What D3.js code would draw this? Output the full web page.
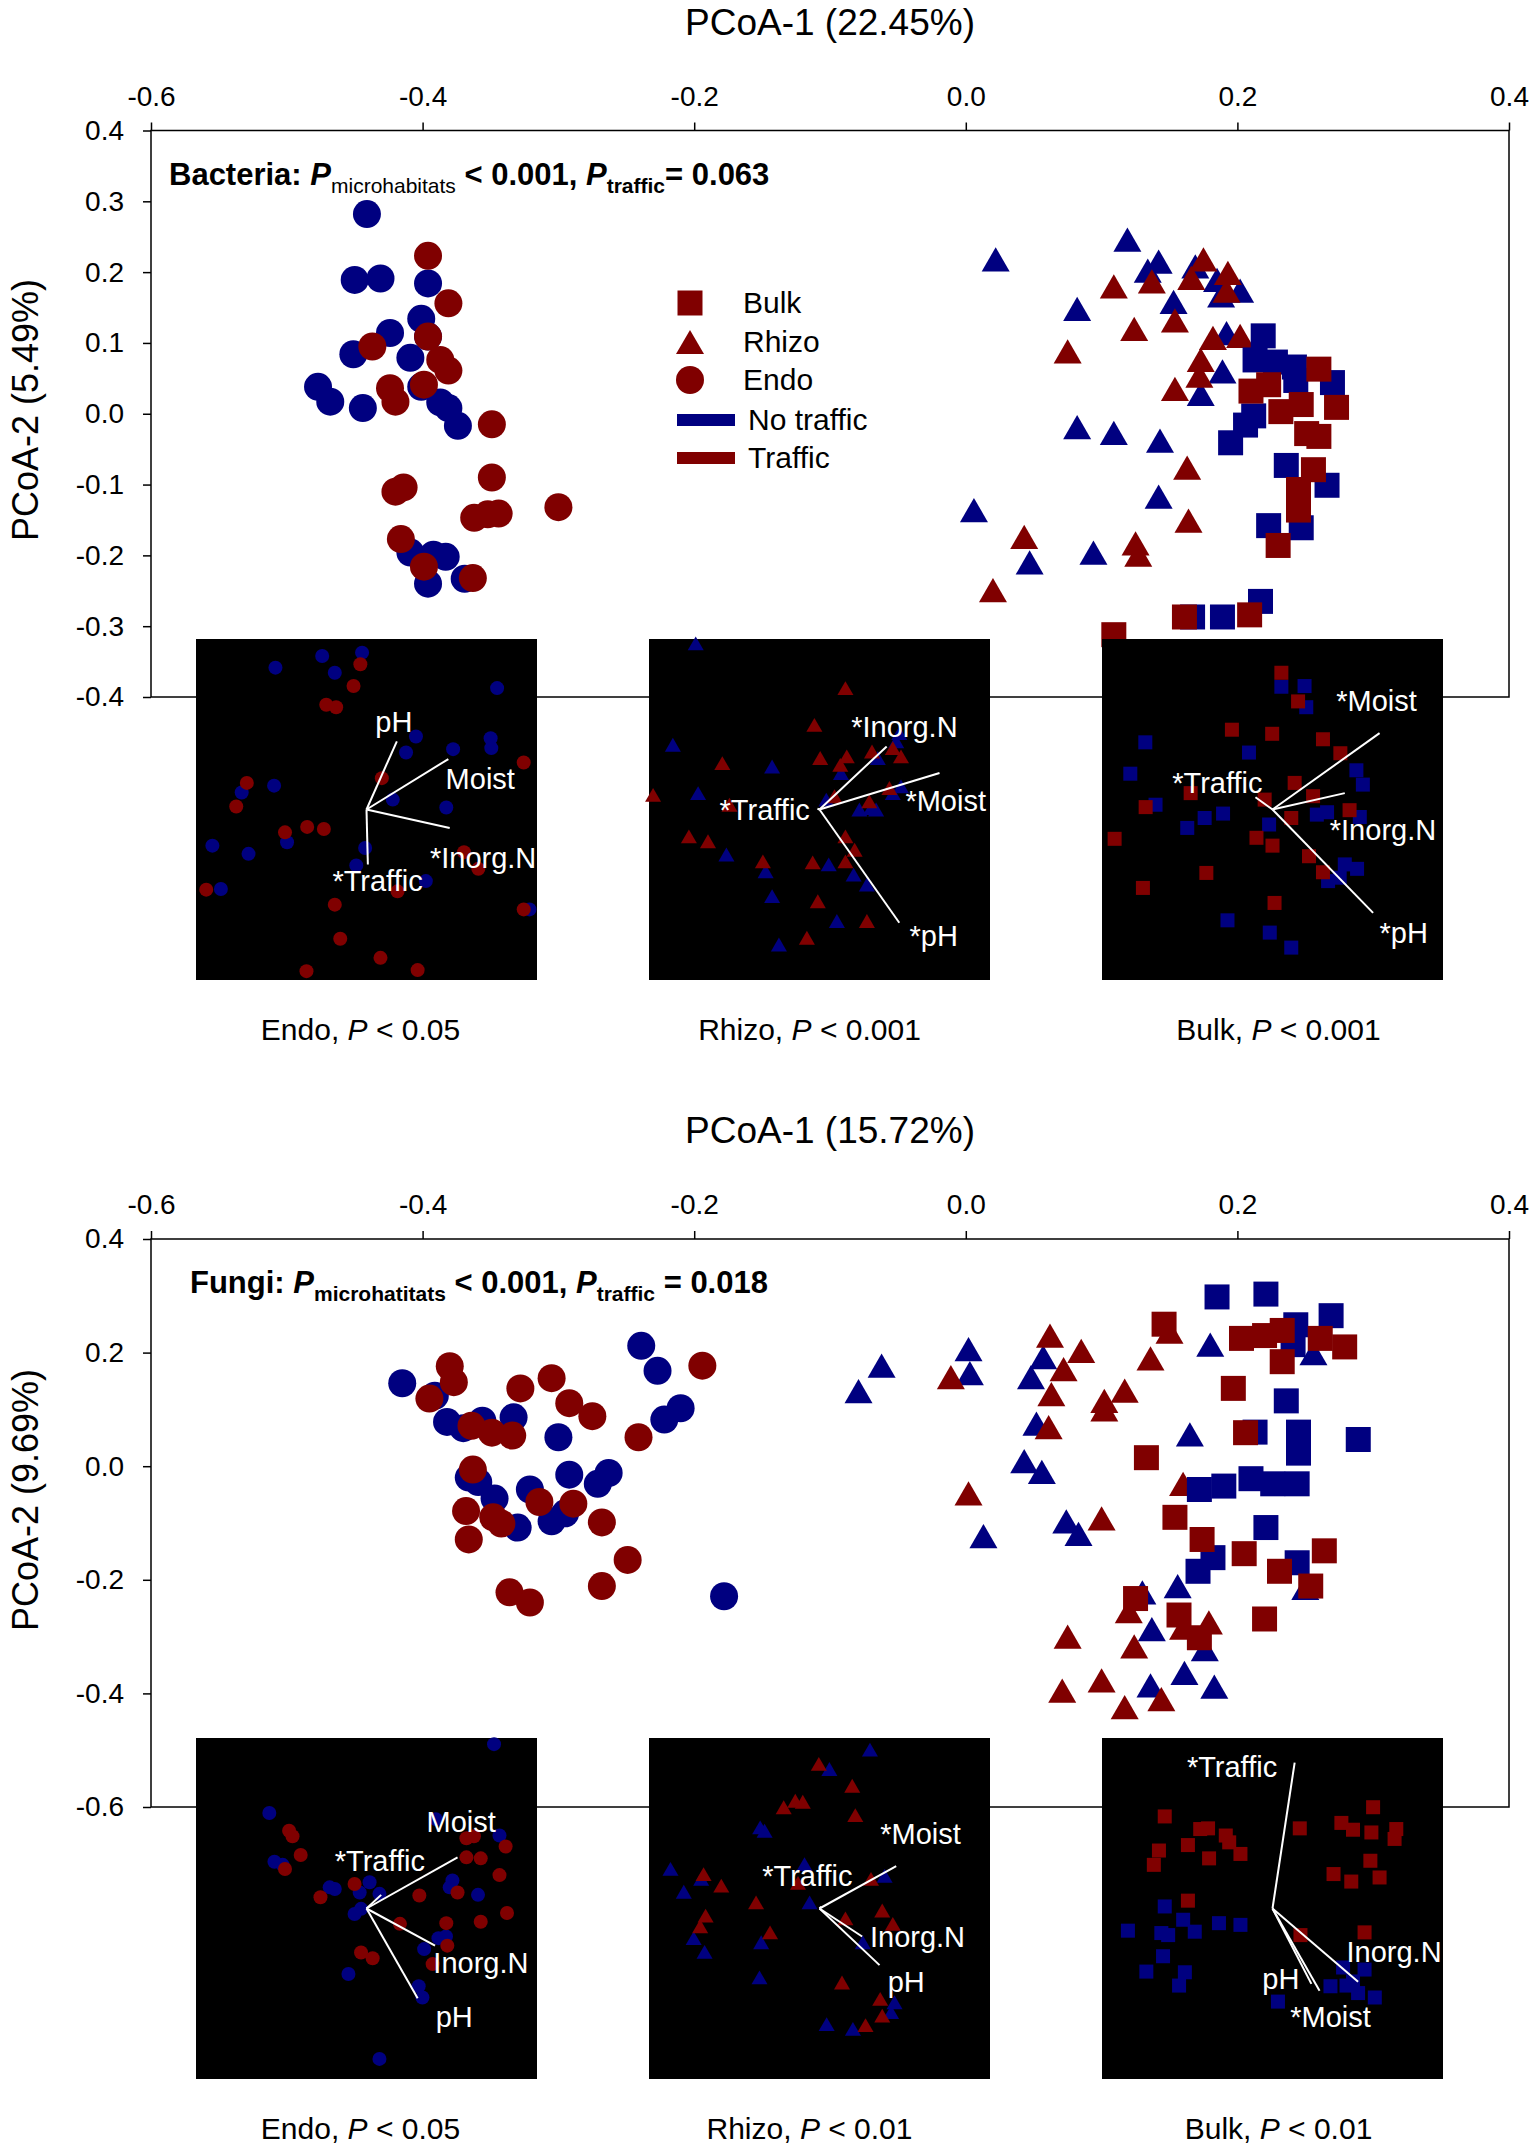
<!DOCTYPE html>
<html>
<head>
<meta charset="utf-8">
<script src="https://cdn.jsdelivr.net/npm/d3@7"></script>
<style>
  body { margin: 0; background: #fff; }
</style>
</head>
<body>
<div id="chart"></div>
<script>
// ---- axis ticks ----
var xTicks = [-0.6, -0.4, -0.2, 0.0, 0.2, 0.4];
var bacYTicks = [0.4, 0.3, 0.2, 0.1, 0.0, -0.1, -0.2, -0.3, -0.4];
var funYTicks = [0.4, 0.2, 0.0, -0.2, -0.4, -0.6];

// ---- Bacteria PCoA scores [PCoA-1, PCoA-2] ----
var bacEndoNo = [[-0.441,0.282],[-0.450,0.189],[-0.431,0.191],[-0.396,0.184],[-0.401,0.134],[-0.424,0.114],
  [-0.396,0.109],[-0.451,0.084],[-0.409,0.079],[-0.477,0.038],[-0.468,0.017],[-0.444,0.008],[-0.401,0.038],
  [-0.387,0.016],[-0.381,0.008],[-0.374,-0.017],[-0.409,-0.196],[-0.392,-0.199],[-0.383,-0.202],[-0.396,-0.240],
  [-0.369,-0.233]];
var bacEndoTr = [[-0.396,0.223],[-0.381,0.156],[-0.437,0.095],[-0.396,0.109],[-0.387,0.076],[-0.381,0.061],
  [-0.424,0.036],[-0.420,0.017],[-0.399,0.041],[-0.349,-0.015],[-0.349,-0.090],[-0.420,-0.110],[-0.414,-0.104],
  [-0.362,-0.147],[-0.352,-0.142],[-0.344,-0.141],[-0.300,-0.132],[-0.416,-0.177],[-0.399,-0.216],[-0.363,-0.232]];
var bacRhizoNo = [[0.022,0.218],[0.119,0.246],[0.142,0.215],[0.134,0.202],[0.169,0.208],[0.185,0.189],
  [0.202,0.174],[0.188,0.167],[0.153,0.158],[0.082,0.148],[0.192,0.114],[0.189,0.060],[0.173,0.028],
  [0.082,-0.019],[0.109,-0.027],[0.143,-0.038],[0.142,-0.117],[0.006,-0.136],[0.047,-0.210],[0.094,-0.196]];
var bacRhizoTr = [[0.175,0.218],[0.193,0.199],[0.109,0.180],[0.137,0.187],[0.166,0.192],[0.192,0.174],
  [0.154,0.132],[0.124,0.120],[0.075,0.088],[0.182,0.107],[0.202,0.110],[0.173,0.076],[0.172,0.054],
  [0.154,0.035],[0.163,-0.076],[0.164,-0.151],[0.043,-0.174],[0.125,-0.183],[0.127,-0.199],[0.020,-0.249]];
var bacBulkNo = [[0.219,0.110],[0.213,0.076],[0.228,0.073],[0.242,0.066],[0.243,0.047],[0.270,0.044],
  [0.212,-0.003],[0.206,-0.016],[0.195,-0.041],[0.236,-0.073],[0.266,-0.101],[0.223,-0.158],[0.247,-0.161],
  [0.217,-0.265],[0.167,-0.287],[0.189,-0.287]];
var bacBulkTr = [[0.260,0.063],[0.210,0.032],[0.223,0.041],[0.232,0.003],[0.247,0.013],[0.273,0.009],
  [0.251,-0.028],[0.260,-0.032],[0.256,-0.079],[0.245,-0.107],[0.245,-0.136],[0.230,-0.186],[0.209,-0.284],
  [0.161,-0.287],[0.109,-0.312]];

// ---- Fungi PCoA scores ----
var funEndoNo = [[-0.415,0.146],[-0.391,0.124],[-0.382,0.078],[-0.356,0.080],[-0.370,0.067],[-0.333,0.086],
  [-0.300,0.051],[-0.239,0.212],[-0.227,0.168],[-0.222,0.082],[-0.210,0.102],[-0.359,-0.028],[-0.366,-0.020],
  [-0.347,-0.057],[-0.321,-0.041],[-0.292,-0.015],[-0.271,-0.031],[-0.263,-0.012],[-0.330,-0.108],
  [-0.305,-0.097],[-0.295,-0.083],[-0.178,-0.229]];
var funEndoTr = [[-0.380,0.176],[-0.377,0.148],[-0.395,0.119],[-0.328,0.137],[-0.305,0.155],[-0.292,0.111],
  [-0.275,0.088],[-0.364,0.071],[-0.349,0.059],[-0.334,0.054],[-0.241,0.051],[-0.194,0.177],[-0.363,-0.006],
  [-0.368,-0.079],[-0.348,-0.090],[-0.342,-0.101],[-0.314,-0.063],[-0.289,-0.066],[-0.268,-0.099],
  [-0.366,-0.129],[-0.249,-0.165],[-0.336,-0.222],[-0.321,-0.240],[-0.268,-0.211]];
var funRhizoNo = [[-0.062,0.177],[-0.079,0.132],[0.002,0.206],[0.003,0.164],[0.057,0.192],[0.048,0.157],
  [0.052,0.075],[0.043,0.009],[0.056,-0.010],[0.074,-0.097],[0.083,-0.119],[0.013,-0.123],[0.180,0.214],
  [0.165,0.056],[0.130,-0.222],[0.156,-0.211],[0.137,-0.287],[0.176,-0.322],[0.161,-0.364],[0.136,-0.386],
  [0.183,-0.388],[0.250,-0.214],[0.256,0.199]];
var funRhizoTr = [[-0.011,0.157],[0.062,0.230],[0.085,0.203],[0.072,0.171],[0.063,0.127],[0.102,0.115],
  [0.117,0.133],[0.102,0.100],[0.061,0.069],[0.136,0.190],[0.150,0.237],[0.002,-0.048],[0.100,-0.092],
  [0.160,-0.031],[0.120,-0.255],[0.179,-0.275],[0.160,-0.284],[0.075,-0.300],[0.124,-0.317],[0.071,-0.395],
  [0.100,-0.377],[0.144,-0.410],[0.117,-0.424]];
var funBulkNo = [[0.185,0.298],[0.221,0.303],[0.269,0.265],[0.243,0.249],[0.241,0.214],[0.236,0.115],
  [0.213,0.060],[0.245,0.060],[0.245,0.023],[0.289,0.047],[0.172,-0.041],[0.190,-0.035],[0.210,-0.022],
  [0.226,-0.031],[0.244,-0.031],[0.221,-0.108],[0.182,-0.161],[0.171,-0.185],[0.244,-0.170]];
var funBulkTr = [[0.146,0.250],[0.203,0.225],[0.220,0.230],[0.233,0.239],[0.261,0.225],[0.279,0.210],
  [0.233,0.184],[0.197,0.137],[0.206,0.059],[0.133,0.015],[0.154,-0.090],[0.174,-0.129],[0.205,-0.154],
  [0.264,-0.149],[0.231,-0.185],[0.254,-0.211],[0.157,-0.262],[0.125,-0.233],[0.220,-0.269],[0.172,-0.302]];

// ---- inset ordinations (axes scaled -50..50, origin at centre) ----
var bacEndoInNo = [[-26.7,41.6],[-13,45],[-1.3,46],[-9.3,40.1],[38.3,35.6],[14.5,21.4],[11.6,16.7],[25.4,17.7],
  [36.4,20.9],[36.6,18],[-27.1,7],[-36.6,5],[7.7,2.9],[23.4,0.6],[-45.2,-10.6],[-34.6,-13],[-23.3,-9.6],
  [-0.4,-11.3],[-3,-16.4],[-42.7,-23.3],[17.4,-21],[47.8,-29.3]];
var bacEndoInTr = [[-1.8,42.6],[-3.8,36.2],[-11.8,30.7],[-8.9,30],[46.1,13.8],[-35.1,7.8],[-38.2,0.9],[4.5,9.2],
  [-23.9,-6.7],[-17.4,-5.1],[-12.5,-5.7],[28.6,-12.5],[32.8,-17.4],[-47,-23.5],[9.1,-24],[-9.3,-27.9],
  [46.1,-29.3],[-7.7,-37.9],[4.1,-43.5],[-17.6,-47.4],[15,-47.1]];
var bacEndoArrows = [["pH",8.9,20],["Moist",24,14.8],["*Inorg.N",24.4,-5.4],["*Traffic",0.4,-16.1]];

var bacRhizoInNo = [[-36.3,48.7],[-43,19],[-35.6,4.8],[-13.9,12.6],[-27.3,-13.2],[-15.8,-18.1],[-13.9,-25.4],
  [-11.9,-39.6],[2.7,-16.1],[5.1,-32.7],[10,-19.1],[13.9,-22],[6.3,10.7],[17.1,15.1],[22.5,20],[23.4,22.4],
  [11.7,0],[15.1,0.4],[16.6,0],[21.5,4.8],[23.9,6.8],[2,2.9]];
var bacRhizoInTr = [[7.6,35.6],[-1.5,24.8],[-48.8,4.3],[-28.5,13.6],[0.2,15.1],[8,15.6],[6.1,13.1],[15.4,17],
  [23.9,15.6],[21.5,18],[20.5,6.3],[4.4,3.9],[14.6,2.4],[-26.4,1.4],[-38.3,-7.9],[-32.7,-9.3],[-16.6,-15.2],
  [-2,-15.5],[7.6,-7.9],[10.3,-11.8],[7.6,-15.2],[-0.5,-26.9],[13.9,-32.7],[-3.7,-37.6]];
var bacRhizoArrows = [["*Inorg.N",19.7,18.5],["*Moist",35.2,10.7],["*pH",23.4,-33.2],["*Traffic",-0.6,0.2]];

var bacBulkInNo = [[2.6,36],[9.4,36.2],[9.9,30],[-37.3,19.7],[-6.9,16.7],[-41.7,10.5],[24.6,11.5],[26.5,7.3],
  [-34.3,1.4],[-19.9,-2.5],[-14.5,-1.2],[-25,-5.4],[-1,-4.4],[13,-1.5],[16,-0.8],[25.6,-2.2],[21.2,-16.1],
  [24.8,-17.4],[16.3,-21],[19.7,-20],[-13.2,-32.5],[-0.8,-36.1],[5.5,-40.5]];
var bacBulkInTr = [[2.6,40.1],[7.5,31.7],[-11.9,23.4],[-0.1,22.2],[14.8,20.6],[19.9,16.5],[6.5,7.8],[11.9,3.9],
  [-24,4.8],[-2.3,2.9],[-37.2,0.7],[5.5,-2.5],[22.6,-0.2],[-46.3,-8.6],[-4.7,-8.3],[0,-10.6],[10.7,-13.7],
  [14.8,-18.4],[-19.4,-18.6],[-38,-23],[0.6,-27.4]];
var bacBulkArrows = [["*Moist",31.4,22.4],["*Inorg.N",21.2,4.8],["*pH",29.5,-30.3],["*Traffic",-5,3.6]];

var funEndoInNo = [[37.4,48.2],[-28.5,28],[-27,13.7],[-24.6,12.8],[-10.8,6.2],[-9.3,5.7],[-2,4.7],[0.9,7.7],
  [3.8,4.3],[-3.5,-1.6],[-1.6,-0.1],[25.2,8.2],[24.4,6.2],[32.7,4],[39,21.4],[20.3,26.2],[21.1,-8.7],
  [23.3,-8.2],[16.9,-11.9],[-5.3,-19.2],[15.3,-22.8],[16.4,-26.1],[3.8,-44.1]];
var funEndoInTr = [[-22.7,22.8],[-21.7,21.2],[-19.3,15.7],[-23.9,11.6],[-13.5,3.3],[-3.5,7.2],[15.5,3.8],
  [29.3,20.6],[31.5,21.2],[40.8,18.2],[29.3,15],[33.5,14.7],[39,9.8],[26.7,4.7],[41.2,-1.3],[33.5,-3.9],
  [23.4,-4.3],[9.8,-4.5],[23.7,-10.9],[-1.6,-12.9],[1.8,-14.6],[19.4,-16.3]];
var funEndoArrows = [["*Traffic",4.3,4],["Moist",26.7,15],["Inorg.N",20.1,-10.9],["pH",15,-26.3]];

var funRhizoInNo = [[14.8,46.6],[2.9,40.9],[-17.4,23.8],[-16.1,22.8],[-43.7,11.6],[-34.7,8.7],[-39.8,4.9],
  [-4.4,13],[-2.9,1.8],[19.1,9.6],[-36.9,-8.7],[-33.7,-12.7],[-17.1,-9.9],[-17.6,-20.2],[12.7,-9.9],
  [22,-27.5],[21,-30.4],[2.1,-33.9],[9.8,-35.3]];
var funRhizoInTr = [[-0.2,42.4],[9.6,36],[-10.5,29.7],[-7.1,31.6],[-4.9,31.3],[10.5,27.4],[-34,10.1],
  [-28.8,6.7],[-18.6,1.8],[-6.3,7.5],[15.1,8.7],[-33.4,-2.1],[-35,-5.2],[-14.5,-7],[7.6,-2.9],[18.4,-0.6],
  [21.5,-4.5],[6.6,-21.7],[17.8,-26.5],[18.4,-31.4],[13.5,-34.2]];
var funRhizoArrows = [["*Moist",22.5,12.4],["*Traffic",0.5,0.5],["Inorg.N",12.5,-8.2],["pH",17.6,-16.6]];

var funBulkInNo = [[-31.6,0.6],[-26.2,-3.3],[-42.4,-6.5],[-32.6,-7.2],[-30.6,-7.8],[-22.8,-6.8],[-15.7,-4.3],
  [-9.4,-4.8],[-32.1,-14],[-37,-18.5],[-25.7,-18.7],[-27.4,-22.6],[1.6,-27.3],[17,-22.8],[20.7,-17.3],
  [27,-17.9],[21.7,-22.6],[25.1,-24.8],[30,-26.1],[23.6,-21.4]];
var funBulkInTr = [[-31.6,27],[29.5,29.7],[8,23.5],[20.2,25.1],[23.6,23.1],[29,22.3],[36.3,23.3],[35.8,20.4],
  [-21.2,23.3],[-18.9,23.5],[-13.7,21.4],[-12.7,19.4],[-9.4,16],[-24.8,18.6],[-18.6,14.7],[-33.3,17],
  [-34.8,12.8],[28.7,14],[17.9,10.1],[23.1,7.9],[31.4,9.1],[-24.8,2.3],[8.2,-7.8],[27,-7]];
var funBulkArrows = [["*Traffic",6.5,42.8],["Inorg.N",25.1,-21.5],["pH",11.4,-22.1],["*Moist",13.8,-24.1]];

// label anchor (left edge, vertical centre) for each arrow, same order as the arrow lists
var bacEndoLabelPos = [[2.6,25.8],[23.2,8.9],[18.6,-14.2],[-10,-21]];
var bacRhizoLabelPos = [[9.3,24.3],[25.2,2.4],[26.4,-37.1],[-29.3,0]];
var bacBulkLabelPos = [[18.7,31.7],[16.8,-5.9],[31.4,-36.1],[-29.4,7.8]];
var funEndoLabelPos = [[-9.3,14],[17.6,25.5],[19.6,-16],[20.3,-31.9]];
var funRhizoLabelPos = [[17.8,21.8],[-16.8,9.6],[14.8,-8.5],[20,-21.7]];
var funBulkLabelPos = [[-25.1,41.4],[21.7,-12.9],[-3,-20.7],[5.2,-31.9]];

var bacCaptions = [["Endo", "0.05"], ["Rhizo", "0.001"], ["Bulk", "0.001"]];
var funCaptions = [["Endo", "0.05"], ["Rhizo", "0.01"], ["Bulk", "0.01"]];

// ---- layout ----
var svgWidth = 1535;
var svgHeight = 2152;
var FONT = "'Liberation Sans', Arial, sans-serif";
var NAVY = "#000080";
var MAROON = "#800000";

var plotLeft = 151, plotRight = 1509;
var insetLefts = [196, 649, 1102];
var insetSize = 341;
var captionShift = [-6, -10, 6];

var svg = d3.select("#chart")
  .append("svg")
  .attr("width", svgWidth)
  .attr("height", svgHeight)
  .style("font-family", FONT);

var xScale = d3.scaleLinear().domain([-0.6, 0.4]).range([plotLeft, plotRight]);
var fmt = d => d.toFixed(1);

function shapePath(kind, size) {
  if (kind === "circle") return d3.symbol(d3.symbolCircle, Math.PI * size * size / 4)();
  if (kind === "square") return d3.symbol(d3.symbolSquare, size * size)();
  var h = size * 0.866;
  return "M0," + (-h / 2) + "L" + (size / 2) + "," + (h / 2) + "L" + (-size / 2) + "," + (h / 2) + "Z";
}
var mainSize = {circle: 28, square: 25, triangle: 28};
var insetMarker = {circle: 14, square: 14, triangle: 16};

function drawPanel(p) {
  var yScale = d3.scaleLinear().domain(p.yDomain).range([p.bottom, p.top]);
  var g = svg.append("g");

  // axis titles
  g.append("text")
    .attr("x", (plotLeft + plotRight) / 2)
    .attr("y", p.top - 96)
    .attr("text-anchor", "middle")
    .attr("font-size", 37)
    .text(p.xTitle);

  g.append("text")
    .attr("transform", `translate(38, ${p.yTitleMid}) rotate(-90)`)
    .attr("text-anchor", "middle")
    .attr("font-size", 36)
    .text(p.yTitle);

  // frame
  g.append("rect")
    .attr("x", plotLeft)
    .attr("y", p.top)
    .attr("width", plotRight - plotLeft)
    .attr("height", p.bottom - p.top)
    .attr("fill", "none")
    .attr("stroke", "#000")
    .attr("stroke-width", 1.5);

  var topAxis = g.append("g")
    .attr("transform", `translate(0, ${p.top})`)
    .call(d3.axisTop(xScale).tickValues(xTicks).tickFormat(fmt).tickSize(8).tickPadding(17));

  var leftAxis = g.append("g")
    .attr("transform", `translate(${plotLeft}, 0)`)
    .call(d3.axisLeft(yScale).tickValues(p.yTicks).tickFormat(fmt).tickSize(8).tickPadding(19));

  [topAxis, leftAxis].forEach(function(a) {
    a.attr("font-size", 28).attr("font-family", FONT);
    a.select(".domain").remove();
    a.selectAll("line").attr("stroke-width", 1.5);
  });

  // annotation with subscripts
  var note = g.append("text")
    .attr("x", p.noteX)
    .attr("y", p.top + 54)
    .attr("font-size", 31)
    .attr("font-weight", "bold");
  p.note.forEach(function(part) {
    var t = note.append("tspan").text(part.t);
    if (part.italic) t.attr("font-style", "italic");
    if (part.sub) t.attr("font-size", 21).attr("dy", 8);
    if (part.back) t.attr("dy", -8);
    if (part.normal) t.attr("font-weight", "normal");
  });

  // main scatter
  p.series.forEach(function(s) {
    g.selectAll(null)
      .data(s.data)
      .enter()
      .append("path")
      .attr("d", shapePath(s.shape, mainSize[s.shape]))
      .attr("transform", d => `translate(${xScale(d[0])}, ${yScale(d[1])})`)
      .attr("fill", s.color);
  });

  // legend
  if (p.legend) {
    var lg = g.append("g");
    var rowsY = [303, 342, 380, 420, 458];
    ["square", "triangle", "circle"].forEach(function(k, i) {
      lg.append("path")
        .attr("d", shapePath(k, mainSize[k]))
        .attr("transform", `translate(690, ${rowsY[i]})`)
        .attr("fill", MAROON);
      lg.append("text").attr("x", 743).attr("y", rowsY[i] + 10).attr("font-size", 30)
        .text(["Bulk", "Rhizo", "Endo"][i]);
    });
    [NAVY, MAROON].forEach(function(c, i) {
      lg.append("rect").attr("x", 677).attr("y", rowsY[3 + i] - 6).attr("width", 58).attr("height", 12)
        .attr("fill", c);
      lg.append("text").attr("x", 748).attr("y", rowsY[3 + i] + 10).attr("font-size", 30)
        .text(["No traffic", "Traffic"][i]);
    });
  }

  // insets
  p.insets.forEach(function(ins, i) {
    var left = insetLefts[i];
    var ix = d3.scaleLinear().domain([-50, 50]).range([left, left + insetSize]);
    var iy = d3.scaleLinear().domain([-50, 50]).range([p.insetTop + insetSize, p.insetTop]);
    var ig = g.append("g");
    var clipId = "clip-" + p.id + "-" + i;

    ig.append("clipPath").attr("id", clipId)
      .append("rect").attr("x", left).attr("y", p.insetTop)
      .attr("width", insetSize).attr("height", insetSize);

    ig.append("rect")
      .attr("x", left).attr("y", p.insetTop)
      .attr("width", insetSize).attr("height", insetSize)
      .attr("fill", "#000");

    [[ins.no, NAVY], [ins.tr, MAROON]].forEach(function(pair) {
      ig.selectAll(null)
        .data(pair[0])
        .enter()
        .append("path")
        .attr("d", shapePath(ins.shape, insetMarker[ins.shape]))
        .attr("transform", d => `translate(${ix(d[0])}, ${iy(d[1])})`)
        .attr("fill", pair[1]);
    });

    ig.selectAll(null)
      .data(ins.arrows)
      .enter()
      .append("line")
      .attr("x1", ix(0)).attr("y1", iy(0))
      .attr("x2", d => ix(d[1])).attr("y2", d => iy(d[2]))
      .attr("stroke", "#fff")
      .attr("stroke-width", 2);

    ig.append("g").attr("clip-path", `url(#${clipId})`)
      .selectAll("text")
      .data(ins.arrows)
      .enter()
      .append("text")
      .attr("x", (d, j) => ix(ins.labels[j][0]))
      .attr("y", (d, j) => iy(ins.labels[j][1]) + 10)
      .attr("font-size", 29)
      .attr("fill", "#fff")
      .text(d => d[0]);

    var cap = g.append("text")
      .attr("x", left + insetSize / 2 + captionShift[i])
      .attr("y", p.insetTop + insetSize + 60)
      .attr("text-anchor", "middle")
      .attr("font-size", 30);
    cap.append("tspan").text(ins.caption[0] + ", ");
    cap.append("tspan").attr("font-style", "italic").text("P");
    cap.append("tspan").text(" < " + ins.caption[1]);
  });
}

drawPanel({
  id: "bac",
  top: 130.5, bottom: 697, yDomain: [-0.4, 0.4], yTicks: bacYTicks,
  xTitle: "PCoA-1 (22.45%)", yTitle: "PCoA-2 (5.49%)", yTitleMid: 410,
  noteX: 169,
  note: [{t: "Bacteria: "}, {t: "P", italic: true}, {t: "microhabitats", sub: true, normal: true},
    {t: " < 0.001, ", back: true}, {t: "P", italic: true}, {t: "traffic", sub: true}, {t: "= 0.063", back: true}],
  legend: true,
  series: [
    {data: bacEndoNo, shape: "circle", color: NAVY}, {data: bacEndoTr, shape: "circle", color: MAROON},
    {data: bacRhizoNo, shape: "triangle", color: NAVY}, {data: bacRhizoTr, shape: "triangle", color: MAROON},
    {data: bacBulkNo, shape: "square", color: NAVY}, {data: bacBulkTr, shape: "square", color: MAROON}
  ],
  insetTop: 639,
  insets: [
    {no: bacEndoInNo, tr: bacEndoInTr, arrows: bacEndoArrows, labels: bacEndoLabelPos, shape: "circle", caption: bacCaptions[0]},
    {no: bacRhizoInNo, tr: bacRhizoInTr, arrows: bacRhizoArrows, labels: bacRhizoLabelPos, shape: "triangle", caption: bacCaptions[1]},
    {no: bacBulkInNo, tr: bacBulkInTr, arrows: bacBulkArrows, labels: bacBulkLabelPos, shape: "square", caption: bacCaptions[2]}
  ]
});

drawPanel({
  id: "fun",
  top: 1239, bottom: 1807, yDomain: [-0.6, 0.4], yTicks: funYTicks,
  xTitle: "PCoA-1 (15.72%)", yTitle: "PCoA-2 (9.69%)", yTitleMid: 1500,
  noteX: 190,
  note: [{t: "Fungi: "}, {t: "P", italic: true}, {t: "microhatitats", sub: true},
    {t: " < 0.001, ", back: true}, {t: "P", italic: true}, {t: "traffic", sub: true}, {t: " = 0.018", back: true}],
  legend: false,
  series: [
    {data: funEndoNo, shape: "circle", color: NAVY}, {data: funEndoTr, shape: "circle", color: MAROON},
    {data: funRhizoNo, shape: "triangle", color: NAVY}, {data: funRhizoTr, shape: "triangle", color: MAROON},
    {data: funBulkNo, shape: "square", color: NAVY}, {data: funBulkTr, shape: "square", color: MAROON}
  ],
  insetTop: 1738,
  insets: [
    {no: funEndoInNo, tr: funEndoInTr, arrows: funEndoArrows, labels: funEndoLabelPos, shape: "circle", caption: funCaptions[0]},
    {no: funRhizoInNo, tr: funRhizoInTr, arrows: funRhizoArrows, labels: funRhizoLabelPos, shape: "triangle", caption: funCaptions[1]},
    {no: funBulkInNo, tr: funBulkInTr, arrows: funBulkArrows, labels: funBulkLabelPos, shape: "square", caption: funCaptions[2]}
  ]
});
</script>
</body>
</html>
